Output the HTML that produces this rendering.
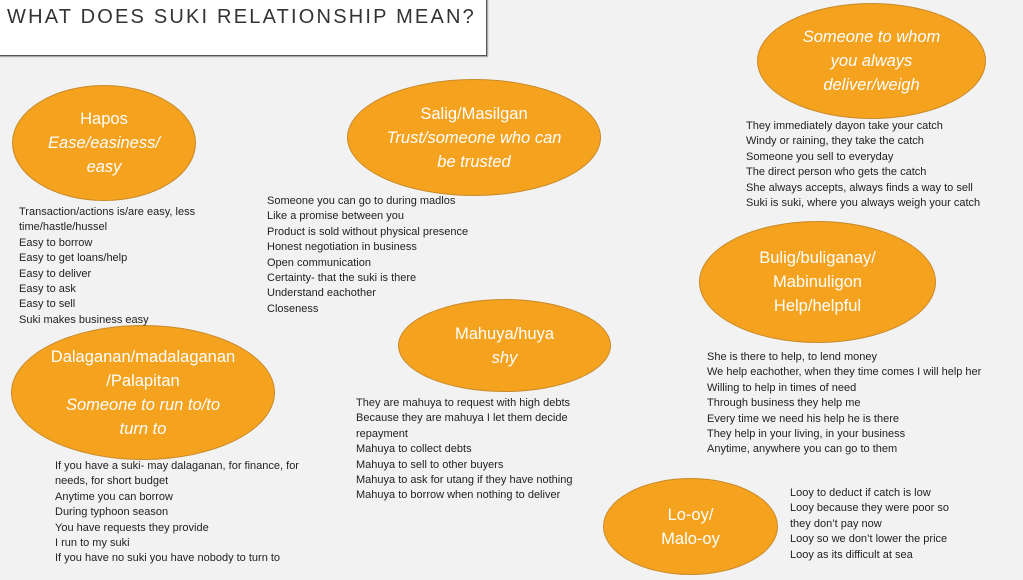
<!DOCTYPE html>
<html><head><meta charset="utf-8"><style>
body{margin:0;width:1023px;height:580px;background:#f2f2f2;position:relative;overflow:hidden;font-family:"Liberation Sans",sans-serif}
.title{position:absolute;left:-2px;top:-2px;width:487px;height:56px;background:#fff;border:1.5px solid #555;box-shadow:1px 1px 1px #999}
.title span{position:absolute;left:8px;top:7px;font-size:20px;letter-spacing:2.2px;color:#333}
.el{position:absolute;background:#f5a21f;border:1.5px solid #c88a2a;border-radius:50%;display:flex;align-items:center;justify-content:center;text-align:center;color:#fff;font-size:16.5px;line-height:24px;box-sizing:border-box}
.el i{font-style:italic}
.l{position:absolute;font-size:11px;line-height:15.4px;color:#222;white-space:nowrap;z-index:2}
</style></head><body>
<div class="title"><span>WHAT DOES SUKI RELATIONSHIP MEAN?</span></div>

<div class="el" style="left:12px;top:85px;width:184px;height:116px"><div>Hapos<br><i>Ease/easiness/<br>easy</i></div></div>
<div class="l" style="left:19px;top:205px">Transaction/actions is/are easy, less<br>time/hastle/hussel<br>Easy to borrow<br>Easy to get loans/help<br>Easy to deliver<br>Easy to ask<br>Easy to sell<br>Suki makes business easy</div>

<div class="el" style="left:347px;top:79px;width:254px;height:117px"><div>Salig/Masilgan<br><i>Trust/someone who can<br>be trusted</i></div></div>
<div class="l" style="left:267px;top:194px">Someone you can go to during madlos<br>Like a promise between you<br>Product is sold without physical presence<br>Honest negotiation in business<br>Open communication<br>Certainty- that the suki is there<br>Understand eachother<br>Closeness</div>

<div class="el" style="left:757px;top:3px;width:229px;height:116px"><div><i>Someone to whom<br>you always<br>deliver/weigh</i></div></div>
<div class="l" style="left:746px;top:119px">They immediately dayon take your catch<br>Windy or raining, they take the catch<br>Someone you sell to everyday<br>The direct person who gets the catch<br>She always accepts, always finds a way to sell<br>Suki is suki, where you always weigh your catch</div>

<div class="el" style="left:699px;top:221px;width:237px;height:122px"><div>Bulig/buliganay/<br>Mabinuligon<br>Help/helpful</div></div>
<div class="l" style="left:707px;top:350px">She is there to help, to lend money<br>We help eachother, when they time comes I will help her<br>Willing to help in times of need<br>Through business they help me<br>Every time we need his help he is there<br>They help in your living, in your business<br>Anytime, anywhere you can go to them</div>

<div class="el" style="left:398px;top:299px;width:213px;height:93px"><div>Mahuya/huya<br><i>shy</i></div></div>
<div class="l" style="left:356px;top:396px">They are mahuya to request with high debts<br>Because they are mahuya I let them decide<br>repayment<br>Mahuya to collect debts<br>Mahuya to sell to other buyers<br>Mahuya to ask for utang if they have nothing<br>Mahuya to borrow when nothing to deliver</div>

<div class="el" style="left:11px;top:325px;width:264px;height:135px"><div>Dalaganan/madalaganan<br>/Palapitan<br><i>Someone to run to/to<br>turn to</i></div></div>
<div class="l" style="left:55px;top:459px">If you have a suki- may dalaganan, for finance, for<br>needs, for short budget<br>Anytime you can borrow<br>During typhoon season<br>You have requests they provide<br>I run to my suki<br>If you have no suki you have nobody to turn to</div>

<div class="el" style="left:603px;top:478px;width:175px;height:97px"><div>Lo-oy/<br>Malo-oy</div></div>
<div class="l" style="left:790px;top:486px">Looy to deduct if catch is low<br>Looy because they were poor so<br>they don’t pay now<br>Looy so we don’t lower the price<br>Looy as its difficult at sea</div>
</body></html>
